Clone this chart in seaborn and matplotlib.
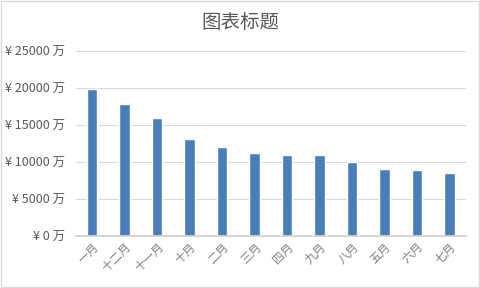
import matplotlib
matplotlib.use("Agg")
import matplotlib.pyplot as plt
import seaborn as sns
import pandas as pd
from matplotlib.ticker import FuncFormatter, MultipleLocator

months = ["一月", "十二月", "十一月", "十月", "二月", "三月", "四月", "九月", "八月", "五月", "六月", "七月"]
values = [19900, 17900, 16000, 13100, 12000, 11200, 11000, 10900, 10000, 9050, 8900, 8550]
title = "图表标题"

sns.set_theme(style="white")
plt.rcParams['font.family'] = ['Noto Sans CJK SC', 'DejaVu Sans']

df = pd.DataFrame({"month": months, "value": values})

fig = plt.figure(figsize=(4.8, 2.88), dpi=100)
ax = fig.add_axes([0.158, 0.1806, 0.8125, 0.6424])
sns.barplot(data=df, x="month", y="value", color="#4A7EBB", width=0.32, ax=ax, saturation=1)

ax.set_ylim(0, 25000)
ax.yaxis.set_major_locator(MultipleLocator(5000))
ax.yaxis.set_major_formatter(FuncFormatter(lambda v, p: f"¥ {int(v)} 万"))
ax.grid(axis="y", color="#D9D9D9", linewidth=0.8)
ax.set_axisbelow(True)
for s in ["top", "right", "left"]:
    ax.spines[s].set_visible(False)
ax.spines["bottom"].set_color("#D0D0D0")
ax.set_xlabel("")
ax.set_ylabel("")
ax.tick_params(axis="y", labelsize=9, colors="#595959", length=0, pad=8)
ax.tick_params(axis="x", labelsize=8.5, colors="#808080", length=0, pad=3)
for lab in ax.get_xticklabels():
    lab.set_rotation(45)
    lab.set_ha("right")
    lab.set_rotation_mode("anchor")
ax.set_xlim(-0.5, len(months) - 0.5)

fig.text(0.5, 0.922, title, ha="center", va="center", fontsize=14, color="#595959")
fig.patches.append(plt.Rectangle((0.002, 0.005), 0.996, 0.99, transform=fig.transFigure,
                                 fill=False, edgecolor="#D9D9D9", linewidth=1))
fig.savefig("out.png", dpi=100)
